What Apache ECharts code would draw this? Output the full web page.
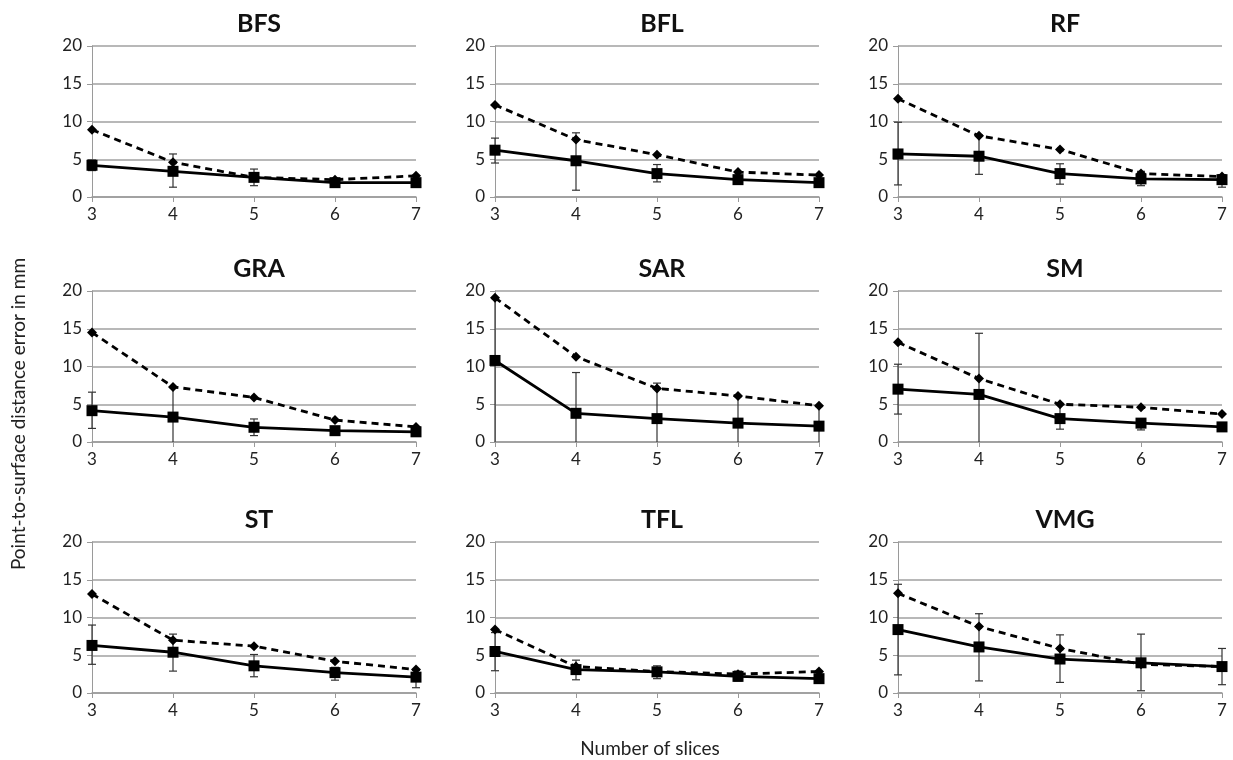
<!DOCTYPE html>
<html>
<head>
<meta charset="utf-8">
<script src="https://cdn.jsdelivr.net/npm/echarts@6/dist/echarts.min.js"></script>
<style>
  html, body { margin: 0; padding: 0; background: #fff; }
  #main { width: 1233px; height: 760px; }
</style>
</head>
<body>
<div id="main"></div>
<script>
// slices on the x axis
const slices = [3, 4, 5, 6, 7]
const yTicks = [0, 5, 10, 15, 20]
const muscles = ['BFS', 'BFL', 'RF', 'GRA', 'SAR', 'SM', 'ST', 'TFL', 'VMG']

// solid line (square markers)
const solidVals = [
  [4.2, 3.4, 2.6, 1.9, 1.9],
  [6.2, 4.8, 3.1, 2.3, 1.9],
  [5.7, 5.4, 3.1, 2.4, 2.3],
  [4.15, 3.3, 1.95, 1.5, 1.35],
  [10.8, 3.8, 3.1, 2.5, 2.1],
  [7.0, 6.3, 3.1, 2.5, 2.0],
  [6.3, 5.4, 3.6, 2.7, 2.1],
  [5.5, 3.1, 2.8, 2.2, 1.9],
  [8.4, 6.1, 4.5, 4.0, 3.5]
]
// dashed line (diamond markers)
const dashedVals = [
  [8.9, 4.6, 2.6, 2.3, 2.8],
  [12.2, 7.6, 5.6, 3.3, 2.9],
  [13.0, 8.1, 6.3, 3.1, 2.7],
  [14.5, 7.3, 5.9, 2.9, 2.0],
  [19.1, 11.3, 7.1, 6.1, 4.8],
  [13.2, 8.4, 5.0, 4.6, 3.7],
  [13.1, 7.0, 6.2, 4.2, 3.1],
  [8.4, 3.5, 2.85, 2.5, 2.85],
  [13.2, 8.8, 5.9, 3.8, 3.5]
]
// error bar ends
const errLow = [
  [3.5, 1.3, 1.5, 1.6, 1.6],
  [4.5, 0.9, 2.0, 2.0, 1.6],
  [1.6, 3.0, 1.7, 1.5, 1.3],
  [1.8, 0, 0.85, 1.2, 1.1],
  [0, 0, 0, 0, 0],
  [3.7, 0, 1.7, 1.6, 1.7],
  [3.8, 2.9, 2.15, 1.7, 0.7],
  [2.95, 1.75, 1.9, 1.6, 1.5],
  [2.4, 1.6, 1.4, 0.3, 1.1]
]
const errHigh = [
  [4.9, 5.7, 3.7, 2.2, 2.2],
  [7.8, 8.5, 4.3, 2.7, 2.2],
  [9.9, 8.2, 4.4, 3.4, 2.95],
  [6.6, 7.2, 3.05, 1.8, 1.6],
  [19.0, 9.2, 7.8, 6.0, 4.7],
  [10.3, 14.4, 5.1, 3.05, 2.3],
  [9.0, 7.8, 5.1, 3.4, 3.0],
  [8.0, 4.35, 3.6, 2.9, 2.3],
  [14.4, 10.5, 7.7, 7.8, 5.9]
]

const colLeft = [92, 495, 898]
const rowTop = [46, 291, 542]
const plotW = 324
const plotH = 151
const font = 'Lato, "Open Sans", sans-serif'

const chart = echarts.init(document.getElementById('main'))

var grid = [], xAxis = [], yAxis = [], series = [], title = []

muscles.forEach((name, i) => {
  const r = Math.floor(i / 3), c = i % 3
  grid.push({ left: colLeft[c], top: rowTop[r], width: plotW, height: plotH })
  title.push({
    text: name,
    left: colLeft[c] + plotW / 2,
    top: rowTop[r] - 40,
    textAlign: 'center',
    textStyle: { fontFamily: font, fontSize: 25, fontWeight: 'bold', color: '#111' }
  })
  xAxis.push({
    type: 'value', gridIndex: i, min: slices[0], max: slices[slices.length - 1], interval: 1,
    axisLine: { lineStyle: { color: '#9a9a9a', width: 1.5 } },
    axisTick: { show: true, length: 5, lineStyle: { color: '#9a9a9a' } },
    splitLine: { show: false },
    axisLabel: { fontFamily: font, fontSize: 17, color: '#222', margin: 9 }
  })
  yAxis.push({
    type: 'value', gridIndex: i, min: yTicks[0], max: yTicks[yTicks.length - 1], interval: 5,
    axisLine: { show: true, lineStyle: { color: '#9a9a9a', width: 1 } },
    axisTick: { show: true, length: 5, lineStyle: { color: '#9a9a9a' } },
    splitLine: { lineStyle: { color: '#a0a0a0', width: 1.5 } },
    axisLabel: { fontFamily: font, fontSize: 17, color: '#222', margin: 10 }
  })

  // error bars
  series.push({
    type: 'custom', xAxisIndex: i, yAxisIndex: i, z: 3, silent: true,
    data: slices.map((s, k) => [s, errLow[i][k], errHigh[i][k]]),
    renderItem: function (params, api) {
      const lo = api.coord([api.value(0), api.value(1)])
      const hi = api.coord([api.value(0), api.value(2)])
      const cap = 4
      const st = { stroke: '#333', lineWidth: 1.2 }
      const kids = [
        { type: 'line', shape: { x1: lo[0], y1: lo[1], x2: hi[0], y2: hi[1] }, style: st },
        { type: 'line', shape: { x1: hi[0] - cap, y1: hi[1], x2: hi[0] + cap, y2: hi[1] }, style: st }
      ]
      if (api.value(1) > 0) {
        kids.push({ type: 'line', shape: { x1: lo[0] - cap, y1: lo[1], x2: lo[0] + cap, y2: lo[1] }, style: st })
      }
      return { type: 'group', children: kids }
    }
  })
  series.push({
    type: 'line', xAxisIndex: i, yAxisIndex: i, z: 4,
    data: slices.map((s, k) => [s, dashedVals[i][k]]),
    symbol: 'diamond', symbolSize: 10,
    lineStyle: { color: '#000', width: 2.8, type: [7, 5] },
    itemStyle: { color: '#000' }
  })
  series.push({
    type: 'line', xAxisIndex: i, yAxisIndex: i, z: 5,
    data: slices.map((s, k) => [s, solidVals[i][k]]),
    symbol: 'rect', symbolSize: 11,
    lineStyle: { color: '#000', width: 2.8 },
    itemStyle: { color: '#000' }
  })
})

title.push({
  text: 'Number of slices', left: 645, top: 734, textAlign: 'center',
  textStyle: { fontFamily: font, fontSize: 19, fontWeight: 'normal', color: '#222' }
})

chart.setOption({
  backgroundColor: '#fff',
  animation: false,
  title,
  grid,
  xAxis,
  yAxis,
  series,
  graphic: [{
    type: 'text', x: 19, y: 414, rotation: Math.PI / 2,
    style: { text: 'Point-to-surface distance error in mm', font: '19px ' + font, fill: '#222', align: 'center', verticalAlign: 'middle' }
  }]
})
</script>
</body>
</html>
